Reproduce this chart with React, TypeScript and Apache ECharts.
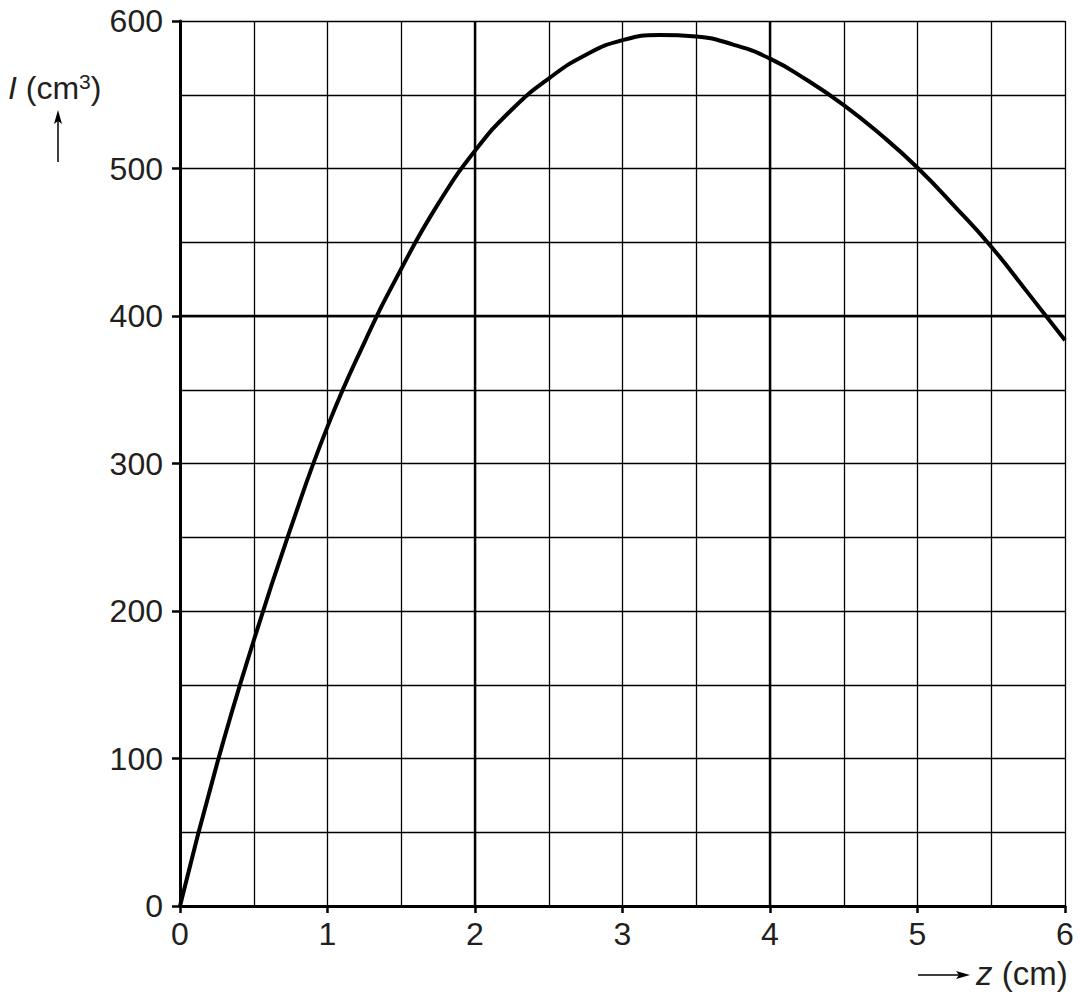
import React, { useEffect, useRef } from "react";
import * as echarts from "echarts";

const zValues = [0, 0.25, 0.5, 0.75, 1, 1.25, 1.5, 1.75, 2, 2.25, 2.5, 2.75, 3, 3.25, 3.5, 3.75, 4, 4.25, 4.5, 4.75, 5, 5.25, 5.5, 5.75, 6];
const iValues = [0, 96, 180, 256, 325, 382, 432, 476, 512, 540, 561, 577, 587, 590.5, 589.5, 584, 574.5, 560, 543, 523, 500.5, 474.5, 447, 415.5, 383.5];
const xTickLabels = ["0", "1", "2", "3", "4", "5", "6"];
const yTickLabels = ["0", "100", "200", "300", "400", "500", "600"];
const heavyX = [2, 4];
const heavyY = [400];

const FONT = "'Liberation Sans', Arial, Helvetica, sans-serif";
const TXT = "#231f20";

export default function App() {
  const ref = useRef<HTMLDivElement>(null);
  useEffect(() => {
    if (!ref.current) return;
    const chart = echarts.init(ref.current, undefined, { renderer: "svg" });
    const data = zValues.map((z, i) => [z, iValues[i]]);
    const thin = { color: "#000", width: 1.3 };
    chart.setOption({
      animation: false,
      backgroundColor: "#fff",
      grid: { left: 180, right: 17, top: 21, bottom: 91 },
      xAxis: {
        type: "value",
        min: 0,
        max: 6,
        interval: 1,
        axisLine: { show: true, onZero: false, lineStyle: { color: "#000", width: 3 } },
        axisTick: { show: true, length: 7, lineStyle: { color: "#000", width: 2.5 } },
        axisLabel: {
          margin: 12,
          fontSize: 32,
          fontFamily: FONT,
          color: TXT,
          formatter: (v: number) => xTickLabels[Math.round(v)] ?? "",
        },
        splitLine: { show: true, lineStyle: thin },
        minorTick: { show: false, splitNumber: 2 },
        minorSplitLine: { show: true, lineStyle: thin },
      },
      yAxis: {
        type: "value",
        min: 0,
        max: 600,
        interval: 100,
        axisLine: { show: true, onZero: false, lineStyle: { color: "#000", width: 3 } },
        axisTick: { show: true, length: 8, lineStyle: { color: "#000", width: 2.5 } },
        axisLabel: {
          margin: 17,
          fontSize: 32,
          fontFamily: FONT,
          color: TXT,
          formatter: (v: number) => yTickLabels[Math.round(v / 100)] ?? "",
        },
        splitLine: { show: true, lineStyle: thin },
        minorTick: { show: false, splitNumber: 2 },
        minorSplitLine: { show: true, lineStyle: thin },
      },
      series: [
        {
          type: "line",
          data,
          smooth: true,
          showSymbol: false,
          symbol: "none",
          lineStyle: { color: "#000", width: 4 },
          z: 5,
          markLine: {
            silent: true,
            symbol: "none",
            label: { show: false },
            lineStyle: { color: "#000", width: 2.4, type: "solid" },
            data: [
              ...heavyX.map((x) => ({ xAxis: x })),
              ...heavyY.map((y) => ({ yAxis: y })),
            ],
          },
        },
      ],
      graphic: [
        {
          type: "text",
          left: 8,
          top: 71,
          style: {
            text: "{i|I} (cm{s|3})",
            fontSize: 32,
            fontFamily: FONT,
            fill: TXT,
            rich: {
              i: { fontStyle: "italic", fontSize: 32, fontFamily: FONT, fill: TXT },
              s: { fontSize: 21, fontFamily: FONT, fill: TXT, verticalAlign: "top", padding: [0, 0, 12, 0] },
            },
          },
        },
        {
          type: "line",
          shape: { x1: 58, y1: 162, x2: 58, y2: 120 },
          style: { stroke: "#000", lineWidth: 1.5 },
        },
        {
          type: "polygon",
          shape: { points: [[58, 110], [54, 124], [58, 121], [62, 124]] },
          style: { fill: "#000" },
        },
        {
          type: "line",
          shape: { x1: 918, y1: 975, x2: 960, y2: 975 },
          style: { stroke: "#000", lineWidth: 1.5 },
        },
        {
          type: "polygon",
          shape: { points: [[970, 975], [956, 971], [959, 975], [956, 979]] },
          style: { fill: "#000" },
        },
        {
          type: "text",
          left: 976,
          top: 957,
          style: {
            text: "{i|z} (cm)",
            fontSize: 33,
            fontFamily: FONT,
            fill: TXT,
            rich: {
              i: { fontStyle: "italic", fontSize: 33, fontFamily: FONT, fill: TXT },
            },
          },
        },
      ],
    });
    return () => chart.dispose();
  }, []);
  return (
    <div
      ref={ref}
      style={{ position: "fixed", left: 0, top: 0, width: 1082, height: 997 }}
    />
  );
}
